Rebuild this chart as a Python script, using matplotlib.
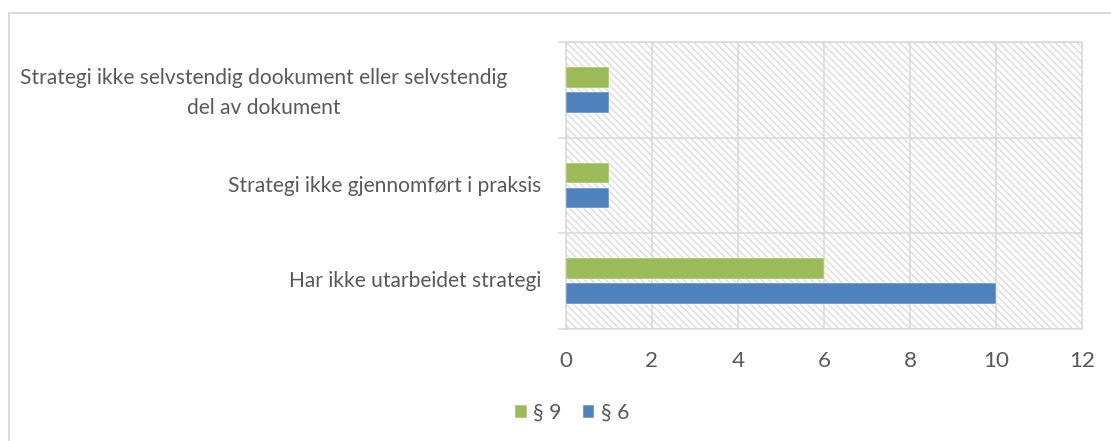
import matplotlib.pyplot as plt
from matplotlib.patches import Rectangle
from matplotlib.lines import Line2D
import numpy as np

categories = ["Har ikke utarbeidet strategi",
              "Strategi ikke gjennomført i praksis",
              "Strategi ikke selvstendig dookument eller selvstendig\ndel av dokument"]
par9 = [6, 1, 1]
par6 = [10, 1, 1]
series_labels = ["§ 9", "§ 6"]
xticks = [0, 2, 4, 6, 8, 10, 12]

green = "#9BBB59"
blue = "#4F81BD"
grey = "#d9d9d9"
txt = "#595959"

plt.rcParams['font.family'] = ['Lato', 'DejaVu Sans']
plt.rcParams['hatch.linewidth'] = 1.4

dpi = 85
fig = plt.figure(figsize=(1111 / dpi, 441 / dpi), dpi=dpi)
ax = fig.add_axes([566 / 1111, 1 - 329 / 441, (1082 - 566) / 1111, (329 - 42) / 441])

# hatched plot area
ax.add_patch(Rectangle((0, 0), 1, 1, transform=ax.transAxes, facecolor='white',
                       edgecolor='#e0e0e0', hatch='\\\\\\\\', linewidth=0, zorder=0.1))

y = np.arange(len(categories))
h = 0.215
ax.barh(y + 0.13, par9, height=h, color=green, edgecolor='white', linewidth=0.4,
        label=series_labels[0], zorder=3)
ax.barh(y - 0.13, par6, height=h, color=blue, edgecolor='white', linewidth=0.4,
        label=series_labels[1], zorder=3)

ax.set_xlim(0, 12)
ax.set_ylim(-0.5, len(categories) - 0.5)
ax.set_xticks(xticks)
ax.set_yticks(y)
ax.set_yticklabels([])
ax.set_yticks(np.arange(-0.5, len(categories)), minor=True)

# category labels; the wrapped one sits a bit further left, like Excel does it
for yi, cat in zip(y, categories):
    wrapped = '\n' in cat
    ax.annotate(cat, xy=(0, yi), xycoords=('axes fraction', 'data'),
                xytext=(-59 if wrapped else -25, -3 if wrapped else 0),
                textcoords='offset pixels', ha='right', va='center',
                multialignment='center', linespacing=1.65, fontsize=17.8, color=txt)

ax.set_axisbelow(True)
ax.grid(axis='x', color=grey, linewidth=1.3, zorder=0.5)
ax.grid(axis='y', which='minor', color=grey, linewidth=1.3, zorder=0.5)
for s in ax.spines.values():
    s.set_color(grey)
    s.set_linewidth(1.3)

ax.tick_params(axis='x', length=0, pad=19, labelsize=19, labelcolor=txt)
ax.tick_params(axis='y', which='major', length=0)
ax.tick_params(axis='y', which='minor', length=7, width=1.3, color=grey)

leg = fig.legend(loc='center', bbox_to_anchor=(572 / 1111, 1 - 413 / 441), ncol=2,
                 frameon=False, fontsize=18, handlelength=0.55, handleheight=0.55,
                 handletextpad=0.3, columnspacing=1.0)
for t in leg.get_texts():
    t.set_color(txt)

# outer chart frame (cut off at right and bottom)
fig.add_artist(Line2D([9 / 1111, 1.0], [1 - 13 / 441, 1 - 13 / 441],
                      color=grey, linewidth=1.6, transform=fig.transFigure))
fig.add_artist(Line2D([9 / 1111, 9 / 1111], [0.0, 1 - 13 / 441],
                      color=grey, linewidth=1.6, transform=fig.transFigure))

fig.savefig('out.png', dpi=dpi)
